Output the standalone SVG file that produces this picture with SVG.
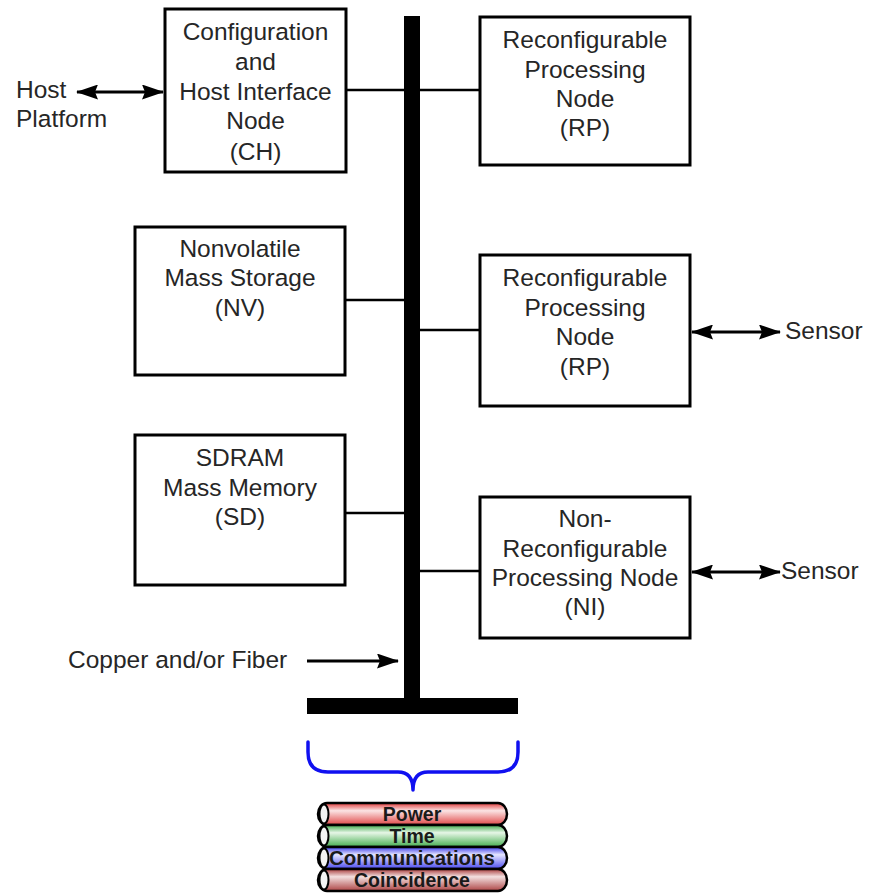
<svg xmlns="http://www.w3.org/2000/svg" width="877" height="895" viewBox="0 0 877 895">
  <style>
    .box { fill: #ffffff; stroke: #000000; stroke-width: 3; }
    .lbl { font-family: "Liberation Sans", Arial, sans-serif; font-size: 24.5px; fill: #262626; }
    .mid { text-anchor: middle; }
    .wire { stroke: #000000; stroke-width: 2.5; fill: none; }
    .arrow { stroke: #000000; stroke-width: 3; fill: none; }
    .cable { stroke: #000000; stroke-width: 2.5; }
    .cap { fill: #f4f4f4; stroke: #000000; stroke-width: 2; }
    .clbl { font-family: "Liberation Sans", Arial, sans-serif; font-size: 19.5px; font-weight: bold; fill: #1a1a1a; text-anchor: middle; }
  </style>
  <defs>
    <marker id="head" viewBox="0 0 22 15" refX="21" refY="7.5" markerWidth="22" markerHeight="15" markerUnits="userSpaceOnUse" orient="auto-start-reverse">
      <path d="M0,0 L22,7.5 L0,15 L3,7.5 Z" fill="#000000"/>
    </marker>
    <linearGradient id="gPower" x1="0" y1="0" x2="0" y2="1">
      <stop offset="0" stop-color="#e03a3a"/>
      <stop offset="0.35" stop-color="#fbe4e4"/>
      <stop offset="1" stop-color="#e04848"/>
    </linearGradient>
    <linearGradient id="gTime" x1="0" y1="0" x2="0" y2="1">
      <stop offset="0" stop-color="#3fa84a"/>
      <stop offset="0.35" stop-color="#e6f6e6"/>
      <stop offset="1" stop-color="#45ad4f"/>
    </linearGradient>
    <linearGradient id="gComm" x1="0" y1="0" x2="0" y2="1">
      <stop offset="0" stop-color="#3a3ae8"/>
      <stop offset="0.35" stop-color="#e6e6ff"/>
      <stop offset="1" stop-color="#4a4af0"/>
    </linearGradient>
    <linearGradient id="gCoin" x1="0" y1="0" x2="0" y2="1">
      <stop offset="0" stop-color="#a83a3a"/>
      <stop offset="0.35" stop-color="#f3e0e0"/>
      <stop offset="1" stop-color="#ad4444"/>
    </linearGradient>
  </defs>
  <rect width="877" height="895" fill="#ffffff"/>

  <!-- backbone bus -->
  <g id="bus">
    <rect x="404" y="16" width="16" height="690" fill="#000000"/>
    <rect x="307" y="698" width="211" height="16" fill="#000000"/>
  </g>

  <!-- links between nodes and the bus, plus external arrows -->
  <g id="connectors">
    <line class="wire" x1="346" y1="90" x2="404" y2="90"/>
    <line class="wire" x1="420" y1="90" x2="480" y2="90"/>
    <line class="wire" x1="346" y1="300" x2="404" y2="300"/>
    <line class="wire" x1="420" y1="330" x2="480" y2="330"/>
    <line class="wire" x1="346" y1="513" x2="404" y2="513"/>
    <line class="wire" x1="420" y1="571" x2="480" y2="571"/>
    <line class="arrow" x1="77" y1="92" x2="163" y2="92" marker-start="url(#head)" marker-end="url(#head)"/>
    <line class="arrow" x1="692" y1="332" x2="780" y2="332" marker-start="url(#head)" marker-end="url(#head)"/>
    <line class="arrow" x1="692" y1="572" x2="780" y2="572" marker-start="url(#head)" marker-end="url(#head)"/>
    <line class="arrow" x1="307" y1="661" x2="398" y2="661" marker-end="url(#head)"/>
  </g>

  <g id="ch">
    <rect class="box" x="165" y="9" width="181" height="163"/>
    <text class="lbl mid" x="255.5" y="40">Configuration</text>
    <text class="lbl mid" x="255.5" y="69.5">and</text>
    <text class="lbl mid" x="255.5" y="99.5">Host Interface</text>
    <text class="lbl mid" x="255.5" y="129">Node</text>
    <text class="lbl mid" x="255.5" y="160">(CH)</text>
  </g>

  <g id="rp1">
    <rect class="box" x="480" y="17" width="210" height="148"/>
    <text class="lbl mid" x="585" y="47.5">Reconfigurable</text>
    <text class="lbl mid" x="585" y="77.5">Processing</text>
    <text class="lbl mid" x="585" y="107">Node</text>
    <text class="lbl mid" x="585" y="136">(RP)</text>
  </g>

  <g id="nv">
    <rect class="box" x="135" y="227" width="210" height="148"/>
    <text class="lbl mid" x="240" y="257">Nonvolatile</text>
    <text class="lbl mid" x="240" y="286">Mass Storage</text>
    <text class="lbl mid" x="240" y="315.5">(NV)</text>
  </g>

  <g id="rp2">
    <rect class="box" x="480" y="255" width="210" height="151"/>
    <text class="lbl mid" x="585" y="286">Reconfigurable</text>
    <text class="lbl mid" x="585" y="315.5">Processing</text>
    <text class="lbl mid" x="585" y="345">Node</text>
    <text class="lbl mid" x="585" y="374.5">(RP)</text>
  </g>

  <g id="sd">
    <rect class="box" x="135" y="435" width="210" height="150"/>
    <text class="lbl mid" x="240" y="466">SDRAM</text>
    <text class="lbl mid" x="240" y="495.5">Mass Memory</text>
    <text class="lbl mid" x="240" y="525">(SD)</text>
  </g>

  <g id="ni">
    <rect class="box" x="480" y="497" width="210" height="141"/>
    <text class="lbl mid" x="585" y="527">Non-</text>
    <text class="lbl mid" x="585" y="556.5">Reconfigurable</text>
    <text class="lbl mid" x="585" y="586">Processing Node</text>
    <text class="lbl mid" x="585" y="615">(NI)</text>
  </g>

  <g id="host">
    <text class="lbl" x="16" y="98">Host</text>
    <text class="lbl" x="16" y="127">Platform</text>
  </g>

  <g id="sensor1">
    <text class="lbl" x="785" y="339">Sensor</text>
  </g>

  <g id="sensor2">
    <text class="lbl" x="781" y="579">Sensor</text>
  </g>

  <g id="medium">
    <text class="lbl" x="68" y="668">Copper and/or Fiber</text>
  </g>

  <!-- brace grouping the bus services -->
  <g id="brace">
    <path d="M308,742 L308,752 Q308,772 328,772 L398,772 Q413,772 413,790 Q413,772 428,772 L498,772 Q518,772 518,752 L518,742" fill="none" stroke="#1010f0" stroke-width="3.5" stroke-linecap="round" stroke-linejoin="round"/>
  </g>

  <!-- bundled cables -->
  <g id="cables">
    <g id="power">
      <rect class="cable" x="318" y="803" width="189" height="22" rx="9" ry="11" fill="url(#gPower)"/>
      <ellipse class="cap" cx="324" cy="814" rx="4.5" ry="9.5"/>
      <text class="clbl" x="412" y="821">Power</text>
    </g>
    <g id="time">
      <rect class="cable" x="318" y="825" width="189" height="22" rx="9" ry="11" fill="url(#gTime)"/>
      <ellipse class="cap" cx="324" cy="836" rx="4.5" ry="9.5"/>
      <text class="clbl" x="412" y="843">Time</text>
    </g>
    <g id="communications">
      <rect class="cable" x="318" y="847" width="189" height="22" rx="9" ry="11" fill="url(#gComm)"/>
      <ellipse class="cap" cx="324" cy="858" rx="4.5" ry="9.5"/>
      <text class="clbl" x="412" y="865" textLength="166" lengthAdjust="spacingAndGlyphs">Communications</text>
    </g>
    <g id="coincidence">
      <rect class="cable" x="318" y="869" width="189" height="22" rx="9" ry="11" fill="url(#gCoin)"/>
      <ellipse class="cap" cx="324" cy="880" rx="4.5" ry="9.5"/>
      <text class="clbl" x="412" y="887">Coincidence</text>
    </g>
  </g>
</svg>
